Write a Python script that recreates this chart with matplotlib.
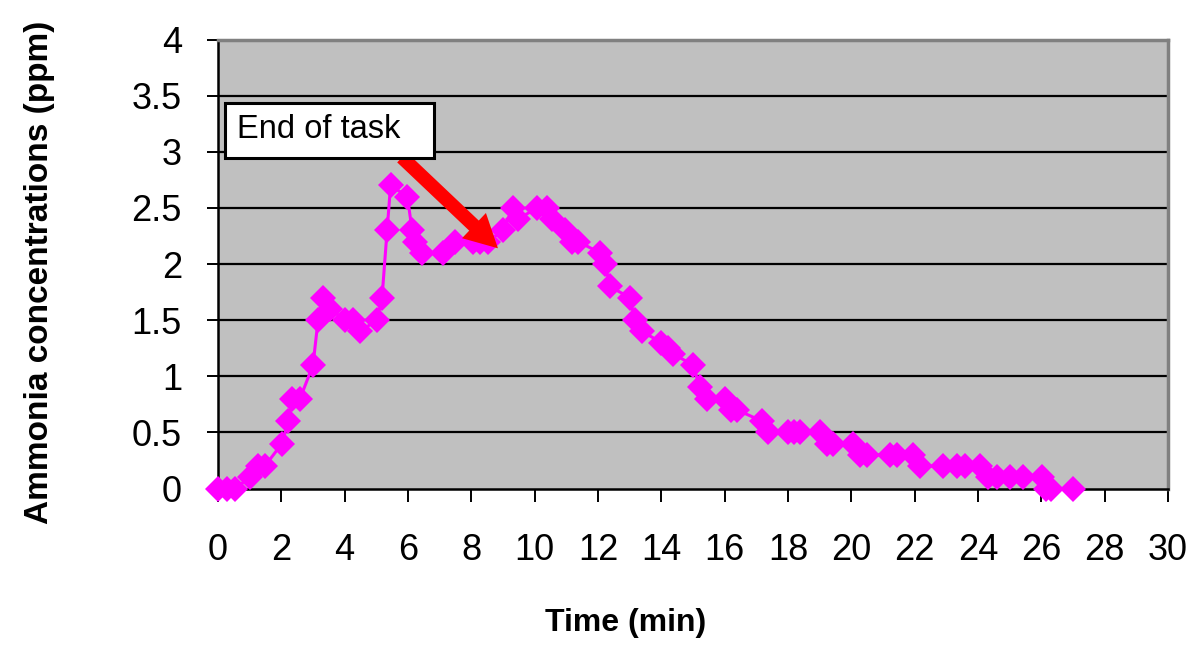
import matplotlib
matplotlib.use("Agg")
import matplotlib.pyplot as plt
from matplotlib.patches import Rectangle

plt.rcParams['font.family'] = ['Liberation Sans', 'DejaVu Sans']

# ---- data ----
time_min = [0.0, 0.28, 0.54, 1.01, 1.26, 1.48, 2.02, 2.22, 2.35, 2.59,
            3.0, 3.16, 3.32, 3.54, 4.01, 4.26, 4.48, 5.02, 5.18, 5.34,
            5.45, 5.98, 6.13, 6.22, 6.44, 7.1, 7.48, 8.05, 8.27, 8.53,
            9.0, 9.31, 9.47, 10.08, 10.39, 10.55, 10.96, 11.18, 11.37, 12.06,
            12.22, 12.38, 13.0, 13.17, 13.39, 14.0, 14.2, 14.37, 15.0, 15.22,
            15.44, 16.0, 16.2, 16.39, 17.18, 17.37, 18.0, 18.2, 18.38, 19.01,
            19.23, 19.42, 20.05, 20.27, 20.49, 21.22, 21.44, 21.95, 22.17, 22.89,
            23.33, 23.6, 24.06, 24.31, 24.6, 25.0, 25.42, 26.02, 26.15, 26.3, 27.0]
ammonia_ppm = [0, 0, 0, 0.1, 0.2, 0.2, 0.4, 0.6, 0.8, 0.8,
               1.1, 1.5, 1.7, 1.6, 1.5, 1.5, 1.4, 1.5, 1.7, 2.3,
               2.7, 2.6, 2.3, 2.2, 2.1, 2.1, 2.2, 2.2, 2.2, 2.2,
               2.3, 2.5, 2.4, 2.5, 2.5, 2.4, 2.3, 2.2, 2.2, 2.1,
               2.0, 1.8, 1.7, 1.5, 1.4, 1.3, 1.25, 1.2, 1.1, 0.9,
               0.8, 0.8, 0.7, 0.7, 0.6, 0.5, 0.5, 0.5, 0.5, 0.5,
               0.4, 0.4, 0.4, 0.3, 0.3, 0.3, 0.3, 0.3, 0.2, 0.2,
               0.2, 0.2, 0.2, 0.1, 0.1, 0.1, 0.1, 0.1, 0.0, 0.0, 0.0]

x_ticks = list(range(0, 31, 2))
y_ticks = [0, 0.5, 1, 1.5, 2, 2.5, 3, 3.5, 4]
y_tick_labels = ['0', '0.5', '1', '1.5', '2', '2.5', '3', '3.5', '4']
annotation_text = "End of task"
arrow_tail = (5.81, 2.95)
arrow_tip = (8.84, 2.14)

# ---- figure ----
fig = plt.figure(figsize=(12, 6.53), dpi=100)
ax = fig.add_axes([218/1200, 1 - 488.5/653, 950/1200, 449/653])
ax.set_facecolor('#C0C0C0')
ax.set_xlim(0, 30)
ax.set_ylim(0, 4)

for yv in y_ticks[1:-1]:
    ax.axhline(yv, color='black', lw=1.6, zorder=1)

ax.plot(time_min, ammonia_ppm, color='#FF00FF', lw=2.2, marker='D',
        markersize=13.5, markeredgewidth=0, zorder=3, clip_on=False)

ax.set_xticks(x_ticks)
ax.set_xticklabels([str(v) for v in x_ticks])
ax.set_yticks(y_ticks)
ax.set_yticklabels(y_tick_labels)
ax.tick_params(axis='x', direction='out', length=9, width=1.4, pad=23,
               labelsize=26, colors='black')
ax.tick_params(axis='y', direction='out', length=8, width=1.4, pad=18,
               labelsize=26, colors='black')

for side in ('left', 'bottom'):
    ax.spines[side].set_color('black')
    ax.spines[side].set_linewidth(1.8)
for side in ('top', 'right'):
    ax.spines[side].set_color('#808080')
    ax.spines[side].set_linewidth(2.5)

ax.set_xlabel('Time (min)', fontsize=23, fontweight='bold')
ax.set_ylabel('Ammonia concentrations (ppm)', fontsize=24, fontweight='bold')
ax.xaxis.set_label_coords((626 - 218) / 950, (488.5 - 608) / 449)
ax.yaxis.set_label_coords((55 - 218) / 950, (488.5 - 272) / 449)

# arrow
ax.annotate('', xy=arrow_tip, xytext=arrow_tail,
            arrowprops=dict(arrowstyle='simple,head_width=2.0,head_length=1.9,tail_width=0.8',
                            mutation_scale=12.5, color='#FF0000', lw=0,
                            shrinkA=0, shrinkB=0),
            zorder=5)

# annotation box
box = Rectangle(((225 - 218) / 950, (488.5 - 158) / 449), (434 - 225) / 950, 55 / 449,
                transform=ax.transAxes, facecolor='white', edgecolor='black',
                lw=2.2, zorder=6)
ax.add_patch(box)
ax.text((237 - 218) / 950, (488.5 - 130) / 449, annotation_text, transform=ax.transAxes,
        ha='left', va='center', fontsize=23.5, zorder=7)

fig.savefig('out.png', dpi=100)
